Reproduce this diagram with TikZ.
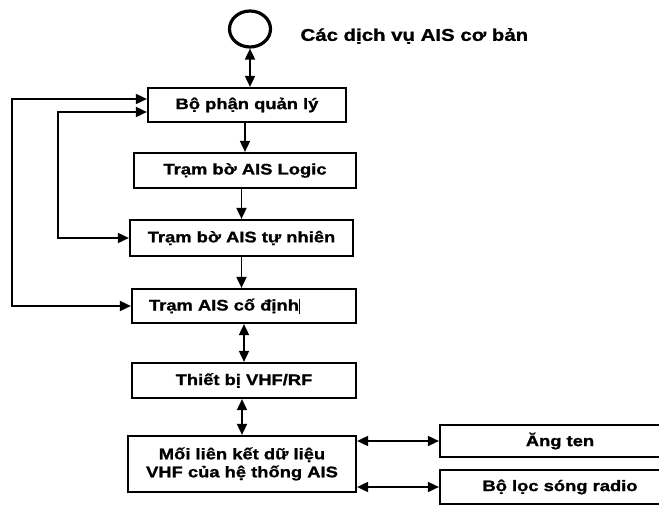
\documentclass[tikz,border=0pt]{standalone}
\usepackage{fontspec}
\setmainfont{Liberation Sans}[FakeStretch=1.2, BoldFeatures={FakeBold=1.2}]
\usetikzlibrary{arrows.meta}
\usetikzlibrary{shapes.geometric}

\tikzset{
    box/.style={draw=black, line width=2.2pt, inner sep=0pt, align=center,
        font=\bfseries\fontsize{15.3}{18}\selectfont},
    link/.style={line width=1.8pt, -{Triangle[length=11pt,width=10pt]}},
    link2/.style={line width=1.8pt, {Triangle[length=11pt,width=10pt]}-{Triangle[length=11pt,width=10pt]}}
}

\begin{document}
\begin{tikzpicture}[x=1pt, y=-1pt]
    \path[use as bounding box, fill=white] (0,0) rectangle (659,506);
    \clip (0,0) rectangle (659,506);

    \node[ellipse, draw=black, line width=3.2pt, minimum width=41pt, minimum height=36pt, inner sep=0pt] (sv) at (250,29) {};
    \node[anchor=west, font=\bfseries\fontsize{17}{20}\selectfont] (svlabel) at (297,36) {Các dịch vụ AIS cơ bản};

    \node[box, minimum width=198pt, minimum height=34pt] (quanly) at (247,105) {Bộ phận quản lý};
    \node[box, minimum width=222pt, minimum height=35pt] (logic) at (245,170.5) {Trạm bờ AIS Logic};
    \node[box, minimum width=223pt, minimum height=36pt] (tunhien) at (241.5,238) {Trạm bờ AIS tự nhiên};
    \node[box, minimum height=34pt, text width=190pt, inner xsep=17pt, align=left] (codinh) at (244,306) {Trạm AIS cố định\rule[-3pt]{1.2pt}{15pt}};
    \node[box, minimum width=224pt, minimum height=35pt] (vhf) at (244,380.5) {Thiết bị VHF/RF};
    \node[box, minimum width=228pt, minimum height=56pt] (lienket) at (242,464) {Mối liên kết dữ liệu\\VHF của hệ thống AIS};
    \node[box, minimum width=240pt, minimum height=32pt, text width=224pt] (angten) at (560,441) {Ăng ten};
    \node[box, minimum width=240pt, minimum height=34pt, text width=224pt] (boloc) at (560,487) {Bộ lọc sóng radio};

    \coordinate (outer) at (12,0);
    \coordinate (inner) at (58,0);

    \draw[link2] (sv.south) -- (sv.south |- quanly.north);
    \draw[link] (quanly.south -| logic.north) -- (logic.north);
    \draw[link] (logic.south -| tunhien.north) -- (tunhien.north);
    \draw[link] (tunhien.south) -- (tunhien.south |- codinh.north);
    \draw[link2] (codinh.south -| vhf.north) -- (vhf.north);
    \draw[link2] (vhf.south -| lienket.north) -- (lienket.north);
    \draw[link2] (angten.west -| lienket.east) -- (angten.west);
    \draw[link2] (boloc.west -| lienket.east) -- (boloc.west);

    \draw[link2] ([yshift=6pt]quanly.west) -- ([yshift=6pt]quanly.west -| outer) -- (codinh.west -| outer) -- (codinh.west);
    \draw[link2] ([yshift=-7pt]quanly.west) -- ([yshift=-7pt]quanly.west -| inner) -- (tunhien.west -| inner) -- (tunhien.west);
\end{tikzpicture}
\end{document}
